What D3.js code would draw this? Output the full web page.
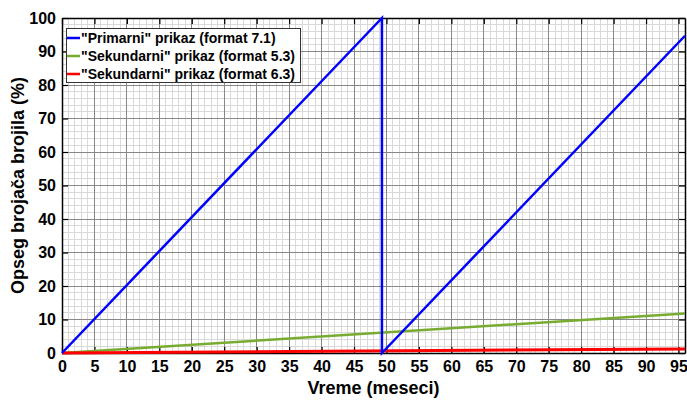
<!DOCTYPE html>
<html><head><meta charset="utf-8">
<script src="https://cdn.jsdelivr.net/npm/d3@7"></script>
<style>body{margin:0;background:#fff}svg{display:block}text{font-family:"Liberation Sans",Arial,sans-serif;font-weight:bold}</style>
</head><body>
<script>
const xTicks = [0,5,10,15,20,25,30,35,40,45,50,55,60,65,70,75,80,85,90,95];
const yTicks = [0,10,20,30,40,50,60,70,80,90,100];
const seriesNames = ['"Primarni" prikaz (format 7.1)','"Sekundarni" prikaz (format 5.3)','"Sekundarni" prikaz (format 6.3)'];
const seriesColors = ["#0000ff","#77ac30","#ff0000"];
const primarniX = [0, 49.3, 49.3, 96];
const primarniY = [0, 100, 0, 94.7];
const sek53X = [0, 96];
const sek53Y = [0, 11.8];
const sek63X = [0, 96];
const sek63Y = [0, 1.2];

const W=687,H=400, L=62,R=685,T=18,B=353;
const svg=d3.select("body").append("svg").attr("width",W).attr("height",H);
const x=d3.scaleLinear().domain([0,96]).range([L,R]);
const y=d3.scaleLinear().domain([0,100]).range([B,T]);

const g=svg.append("g");
// minor grid
for(let v=1;v<96;v++){ if(v%5) g.append("line").attr("x1",x(v)).attr("x2",x(v)).attr("y1",T).attr("y2",B).attr("stroke","#d9d9d9").attr("stroke-width",1).attr("shape-rendering","crispEdges");}
for(let v=2;v<100;v+=2){ if(v%10) g.append("line").attr("y1",y(v)).attr("y2",y(v)).attr("x1",L).attr("x2",R).attr("stroke","#d9d9d9").attr("stroke-width",1).attr("shape-rendering","crispEdges");}
// major grid
xTicks.forEach(v=>{ if(v>0) g.append("line").attr("x1",x(v)).attr("x2",x(v)).attr("y1",T).attr("y2",B).attr("stroke","#888").attr("stroke-width",1).attr("shape-rendering","crispEdges");});
yTicks.forEach(v=>{ if(v>0&&v<100) g.append("line").attr("y1",y(v)).attr("y2",y(v)).attr("x1",L).attr("x2",R).attr("stroke","#888").attr("stroke-width",1).attr("shape-rendering","crispEdges");});

// axes
const ax=svg.append("g").attr("transform",`translate(0,${B})`).call(d3.axisBottom(x).tickValues(xTicks).tickSizeInner(-6).tickSizeOuter(0).tickPadding(8));
const axT=svg.append("g").attr("transform",`translate(0,${T})`).call(d3.axisTop(x).tickValues(xTicks).tickSizeInner(-6).tickSizeOuter(0).tickFormat(""));
const ay=svg.append("g").attr("transform",`translate(${L},0)`).call(d3.axisLeft(y).tickValues(yTicks).tickSizeInner(-6).tickSizeOuter(0).tickPadding(6));
const ayR=svg.append("g").attr("transform",`translate(${R},0)`).call(d3.axisRight(y).tickValues(yTicks).tickSizeInner(-6).tickSizeOuter(0).tickFormat(""));
[ax,axT,ay,ayR].forEach(a=>{a.select(".domain").attr("stroke","#000").attr("stroke-width",1.5);a.selectAll(".tick line").attr("stroke","#000").attr("stroke-width",1.2);a.selectAll("text").attr("font-size",16).attr("fill","#000").style("font-family",'"Liberation Sans",Arial,sans-serif').style("font-weight","bold");});

const line=d3.line().x(d=>x(d[0])).y(d=>y(d[1]));
const data=[d3.zip(primarniX,primarniY),d3.zip(sek53X,sek53Y),d3.zip(sek63X,sek63Y)];
const widths=[2.5,2.5,3];
const pg=svg.append("g");
[1,2,0].forEach(i=>pg.append("path").attr("d",line(data[i])).attr("fill","none").attr("stroke",seriesColors[i]).attr("stroke-width",widths[i]));

// legend
const lg=svg.append("g");
lg.append("rect").attr("x",66.5).attr("y",28.5).attr("width",234).attr("height",54).attr("fill","#fff").attr("stroke","#333").attr("stroke-width",1);
seriesNames.forEach((n,i)=>{const yy=38+i*18;
 lg.append("line").attr("x1",67).attr("x2",80).attr("y1",yy).attr("y2",yy).attr("stroke",seriesColors[i]).attr("stroke-width",2.5);
 lg.append("text").attr("x",81).attr("y",yy+5).attr("font-size",14).text(n);});

svg.append("text").attr("x",(L+R)/2).attr("y",394).attr("text-anchor","middle").attr("font-size",18).text("Vreme (meseci)");
svg.append("text").attr("transform",`translate(24,${(T+B)/2}) rotate(-90)`).attr("text-anchor","middle").attr("font-size",18).text("Opseg brojača brojila (%)");
</script>
</body></html>
